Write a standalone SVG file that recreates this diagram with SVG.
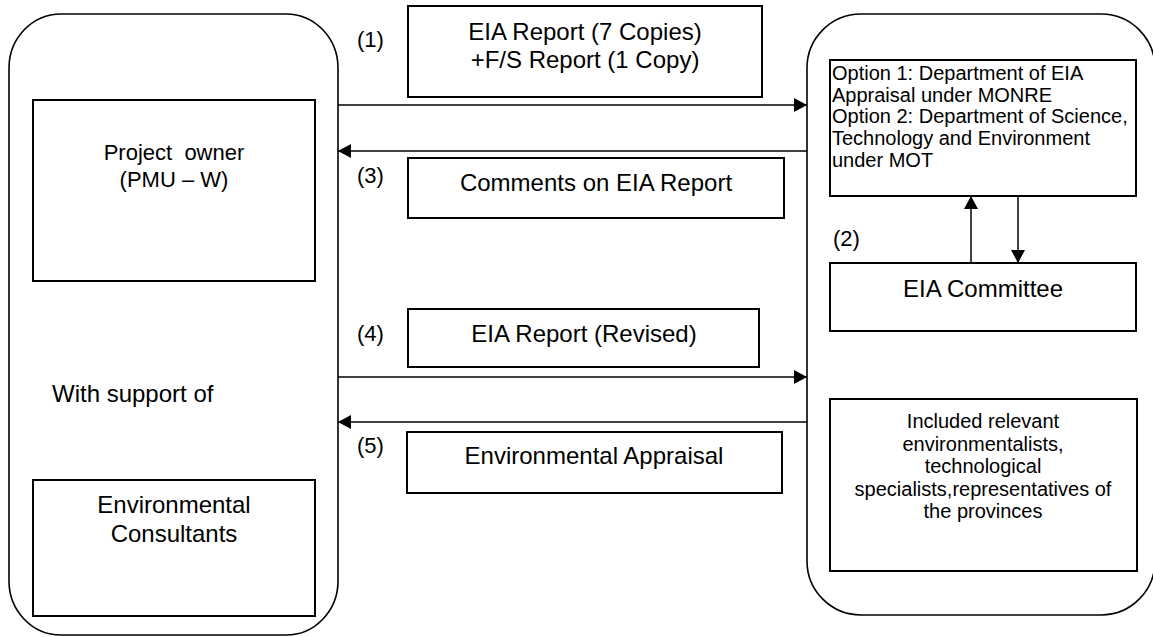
<svg xmlns="http://www.w3.org/2000/svg" width="1153" height="637" viewBox="0 0 1153 637">
<style>
.t{font-family:"Liberation Sans",Arial,sans-serif;fill:#000}
.c{text-anchor:middle}
.f24{font-size:24px}
.f22{font-size:22px}
.f20{font-size:20px}
.box{fill:#fff;stroke:#000;stroke-width:2}
.round{fill:#fff;stroke:#000;stroke-width:1.6}
.conn line{stroke:#000;stroke-width:1.5}
</style>
<defs>
<marker id="ah" viewBox="0 0 13 14" refX="13" refY="7" markerWidth="13" markerHeight="14" markerUnits="userSpaceOnUse" orient="auto">
<path d="M0,0 L13,7 L0,14 Z" fill="#000"/>
</marker>
</defs>
<rect width="1153" height="637" fill="#fff"/>

<g id="left-panel">
<rect class="round" x="9" y="14" width="329" height="621" rx="52" ry="54"/>
</g>
<g id="right-panel">
<rect class="round" x="807" y="14" width="348" height="601" rx="54" ry="54"/>
</g>

<g id="project-owner">
<rect class="box" x="33" y="100" width="282" height="181"/>
<text class="t c f22" x="174" y="160">Project&#160; owner</text>
<text class="t c f22" x="174" y="187">(PMU – W)</text>
</g>

<g id="with-support">
<text class="t f24" x="52" y="402">With support of</text>
</g>

<g id="env-consultants">
<rect class="box" x="33" y="480" width="282" height="136"/>
<text class="t c f24" x="174" y="513">Environmental</text>
<text class="t c f24" x="174" y="542">Consultants</text>
</g>

<g id="eia-report">
<rect class="box" x="408" y="6" width="354" height="91"/>
<text class="t c f24" x="585" y="40">EIA Report (7 Copies)</text>
<text class="t c f24" x="585" y="68">+F/S Report (1 Copy)</text>
</g>

<g id="comments">
<rect class="box" x="408" y="158" width="376" height="60"/>
<text class="t c f24" x="596" y="191">Comments on EIA Report</text>
</g>

<g id="eia-revised">
<rect class="box" x="408" y="309" width="351" height="58"/>
<text class="t c f24" x="584" y="342">EIA Report (Revised)</text>
</g>

<g id="env-appraisal">
<rect class="box" x="407" y="432" width="375" height="61"/>
<text class="t c f24" x="594" y="464">Environmental Appraisal</text>
</g>

<g id="options">
<rect class="box" x="830" y="60" width="306" height="136"/>
<text class="t f20" x="832" y="80">Option 1: Department of EIA</text>
<text class="t f20" x="832" y="101.7">Appraisal under MONRE</text>
<text class="t f20" x="832" y="123.4">Option 2: Department of Science,</text>
<text class="t f20" x="832" y="145.1">Technology and Environment</text>
<text class="t f20" x="832" y="166.8">under MOT</text>
</g>

<g id="eia-committee">
<rect class="box" x="830" y="263" width="306" height="68"/>
<text class="t c f24" x="983" y="297">EIA Committee</text>
</g>

<g id="included">
<rect class="box" x="830" y="399" width="307" height="172"/>
<text class="t c f20" x="983" y="428">Included relevant</text>
<text class="t c f20" x="983" y="450.5">environmentalists,</text>
<text class="t c f20" x="983" y="473">technological</text>
<text class="t c f20" x="983" y="495.5">specialists,representatives of</text>
<text class="t c f20" x="983" y="518">the provinces</text>
</g>

<g id="connectors" class="conn">
<line x1="338" y1="105" x2="807" y2="105" marker-end="url(#ah)"/>
<line x1="807" y1="151" x2="338" y2="151" marker-end="url(#ah)"/>
<line x1="338" y1="377" x2="807" y2="377" marker-end="url(#ah)"/>
<line x1="807" y1="422" x2="338" y2="422" marker-end="url(#ah)"/>
<line x1="971" y1="263" x2="971" y2="196" marker-end="url(#ah)"/>
<line x1="1018" y1="196" x2="1018" y2="263" marker-end="url(#ah)"/>
</g>

<g id="step-labels">
<text class="t f22" x="357" y="47">(1)</text>
<text class="t f22" x="833" y="246">(2)</text>
<text class="t f22" x="357" y="183">(3)</text>
<text class="t f22" x="357" y="341">(4)</text>
<text class="t f22" x="357" y="453">(5)</text>
</g>
</svg>
